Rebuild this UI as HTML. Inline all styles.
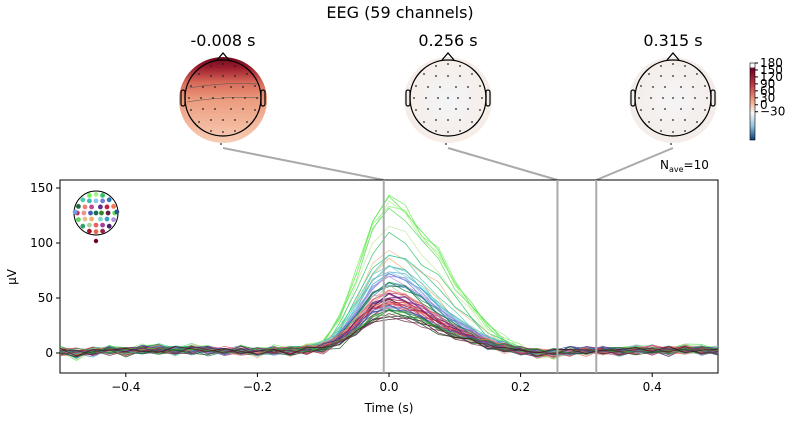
<!DOCTYPE html>
<html><head><meta charset="utf-8"><style>
body{margin:0;background:#fff;font-family:"Liberation Sans","DejaVu Sans",sans-serif}
svg text{font-family:"DejaVu Sans","Liberation Sans",sans-serif}
</style></head><body>
<svg id="fig" width="800" height="420" viewBox="0 0 800 420">
<defs>
<linearGradient id="g1" x1="0" y1="0" x2="0" y2="1">
<stop offset="0" stop-color="#6a0a1c"/><stop offset="0.12" stop-color="#9a1c2c"/><stop offset="0.3" stop-color="#d96a5a"/><stop offset="0.5" stop-color="#ec9c7e"/><stop offset="1" stop-color="#f7cdb5"/></linearGradient>
<radialGradient id="g2" cx="0.5" cy="0.5" r="0.6"><stop offset="0" stop-color="#f3f5f8"/><stop offset="1" stop-color="#f7ebe4"/></radialGradient>
<radialGradient id="g3" cx="0.5" cy="0.5" r="0.6"><stop offset="0" stop-color="#f5f5f6"/><stop offset="1" stop-color="#f4ebe6"/></radialGradient>
<linearGradient id="cb" x1="0" y1="0" x2="0" y2="1">
<stop offset="0" stop-color="#ffffff"/><stop offset="0.05" stop-color="#ffffff"/><stop offset="0.07" stop-color="#6a0020"/><stop offset="0.3" stop-color="#c4424a"/><stop offset="0.5" stop-color="#f2a889"/><stop offset="0.65" stop-color="#f7f7f7"/><stop offset="0.82" stop-color="#92c4de"/><stop offset="1" stop-color="#0a3a78"/></linearGradient>
</defs>
<text x="400" y="18" text-anchor="middle" font-size="16">EEG (59 channels)</text>
<g id="topos"></g>
<g>
<rect x="750" y="63" width="5" height="77" fill="url(#cb)" stroke="#000" stroke-width="0.6"/>
<g font-size="12" id="cbticks"></g>
</g>
<text x="660" y="169" font-size="12">N<tspan font-size="8" dy="3">ave</tspan><tspan dy="-3">=10</tspan></text>
<g id="connectors"></g>
<g id="plot"></g>
</svg>
<script>
const times=[-0.5,-0.475,-0.45,-0.425,-0.4,-0.375,-0.35,-0.325,-0.3,-0.275,-0.25,-0.225,-0.2,-0.175,-0.15,-0.125,-0.1,-0.075,-0.05,-0.025,0,0.025,0.05,0.075,0.1,0.125,0.15,0.175,0.2,0.225,0.25,0.275,0.3,0.325,0.35,0.375,0.4,0.425,0.45,0.475,0.5];
const shape=[0,-0.03,0,0.02,0,0.03,0.03,0.01,0.03,0.02,0,0.01,-0.01,0.02,0.01,0.03,0.06,0.22,0.5,0.82,0.97,0.9,0.74,0.55,0.38,0.26,0.14,0.07,0.02,-0.02,-0.03,0.0,0.01,0.02,0.0,0.02,0.02,0.01,0.03,0.02,0.01];
const noise=[1,-2,2,-1,3,0,-2,1,2,-3,1,0,2,-1,-2,3,1,-1,2,-2,0,1,-3,2,1,-1,2,0,-2,1,3,-1,0,2,-2,1,0,-1,2,1,-2,0,1,2,-1,3,-2,0,1,-1];
const peaks=[148,145,140,138,132,120,110,95,92,88,85,82,80,78,76,75,74,72,70,68,66,65,64,62,61,60,58,57,56,55,54,53,52,51,50,50,49,48,47,47,46,45,45,44,43,43,42,42,41,40,40,39,38,37,36,35,34,33,32];
const colors=["#6cf25a","#54e84a","#88f070","#a8f08a","#5ed860","#c6e8a0","#2fc864","#e8c090","#2ebf7e","#48d0a8","#f0b070","#66cccc","#40b8b8","#7ad8c8","#5ab0d0","#88c8e8","#3aa0c0","#9090e8","#7878d8","#b090e0","#4a8ad0","#2c7ab8","#30a070","#208850","#1c6a40","#a0d0a0","#e89090","#f08070","#e86060","#d85080","#c04898","#a040a0","#803090","#603080","#502070","#402060","#c02040","#a01830","#802030","#f07850","#e86848","#d04060","#b83060","#9a2050","#e05070","#f09090","#70a0e0","#5080d0","#4060b8","#305090","#208060","#107050","#60c040","#40a030","#308828","#205020","#883060","#602040","#401020"];
const X=t=>389+t*658, Y=v=>353-v*1.1;
const plot=document.getElementById('plot');
const NS='http://www.w3.org/2000/svg';
function mk(tag,attrs,parent){const e=document.createElementNS(NS,tag);for(const k in attrs)e.setAttribute(k,attrs[k]);(parent||plot).appendChild(e);return e;}
const frame=mk('rect',{x:60,y:180,width:658,height:193,fill:'#fff',stroke:'#000','stroke-width':1});


const tg=mk('g',{fill:'none','stroke-width':0.8});


peaks.forEach((p,c)=>{
 let d='';
 times.forEach((t,i)=>{
  const decay=(t>0.05&&p>90)?1.15:1;
  const v=shape[i]*p*decay+noise[(i+c)%noise.length]*1.2+(c%5)*0.6;
  d+=(i?'L':'M')+X(t).toFixed(1)+','+Y(v).toFixed(1);
 });
 const pth=mk('path',{d:d,stroke:colors[c%colors.length],'stroke-opacity':0.85},tg);
 
 
});
const xt=[-0.4,-0.2,0,0.2,0.4], yt=[0,50,100,150];
xt.forEach(t=>{mk('line',{x1:X(t),x2:X(t),y1:373,y2:377,stroke:'#000'});
 const tx=mk('text',{x:X(t),y:391,'text-anchor':'middle','font-size':12});tx.textContent=t===0?'0.0':(t<0?'\u2212'+Math.abs(t):String(t));
 
 });
yt.forEach(v=>{mk('line',{x1:56,x2:60,y1:Y(v),y2:Y(v),stroke:'#000'});
 const tx=mk('text',{x:53,y:Y(v)+4,'text-anchor':'end','font-size':12});tx.textContent=v;
 
 });
const xl=mk('text',{x:389,y:412,'text-anchor':'middle','font-size':12});xl.textContent='Time (s)';


const yl=mk('text',{x:16,y:277,'text-anchor':'middle','font-size':12,transform:'rotate(-90 16 277)'});yl.textContent='µV';


const topoTimes=[-0.008,0.256,0.315];
const topoCx=[223,448,673], fills=['url(#g1)','url(#g2)','url(#g3)'];
const topos=document.getElementById('topos'), con=document.getElementById('connectors');
const sens=[[-12,-32],[0,-34],[12,-32],[-24,-24],[-12,-22],[0,-22],[12,-22],[24,-24],[-32,-12],[-20,-11],[-8,-11],[8,-11],[20,-11],[32,-12],[-34,0],[-22,0],[-10,0],[0,0],[10,0],[22,0],[34,0],[-32,12],[-20,11],[-8,11],[8,11],[20,11],[32,12],[-24,24],[-12,22],[0,22],[12,22],[24,24],[-12,33],[0,34],[12,33],[-38,-2],[38,-2]];
topoTimes.forEach((t,k)=>{
 const cx=topoCx[k],cy=98;
 const g=mk('g',{},topos);
 
 
 mk('ellipse',{cx:cx,cy:cy+2,rx:44,ry:43,fill:fills[k]},g);
 if(k===0){mk('path',{d:`M${cx-34},${cy-10} Q${cx},${cy-16} ${cx+34},${cy-14}`,fill:'none',stroke:'#555','stroke-width':0.6},g);
  mk('path',{d:`M${cx-36},${cy+4} Q${cx},${cy-2} ${cx+36},${cy}`,fill:'none',stroke:'#555','stroke-width':0.6},g);}
 mk('circle',{cx:cx,cy:cy,r:38,fill:'none',stroke:'#000','stroke-width':1.3},g);
 mk('path',{d:`M${cx-6},${cy-38} L${cx},${cy-45} L${cx+6},${cy-38}`,fill:'none',stroke:'#000','stroke-width':1.3},g);
 mk('rect',{x:cx-42,y:cy-8,width:4,height:16,rx:2,fill:'none',stroke:'#000','stroke-width':1.2},g);
 mk('rect',{x:cx+38,y:cy-8,width:4,height:16,rx:2,fill:'none',stroke:'#000','stroke-width':1.2},g);
 sens.forEach(s=>mk('circle',{cx:cx+s[0],cy:cy+s[1],r:0.9,fill:'#222'},g));
 mk('circle',{cx:cx-2,cy:cy+46,r:0.9,fill:'#222'},g);
 const tt=mk('text',{x:cx,y:46,'text-anchor':'middle','font-size':16},g);tt.textContent=t.toFixed(3)+' s';
 mk('line',{x1:cx,y1:148,x2:X(t),y2:180,stroke:'#aaa','stroke-width':2},con);
 const vl=mk('line',{x1:X(t),y1:180,x2:X(t),y2:373,stroke:'#aaa','stroke-width':2});
 
 
});
const ig=mk('g',{});


mk('circle',{cx:96,cy:213,r:22,fill:'none',stroke:'#000','stroke-width':1},ig);
sens.forEach((s,i)=>mk('circle',{cx:96+s[0]*0.55,cy:213+s[1]*0.55,r:2.4,fill:colors[(i*3)%colors.length]},ig));
mk('circle',{cx:96,cy:241,r:2.2,fill:'#700020'},ig);
const cbv=[180,150,120,90,60,30,0,-30];
const cbt=document.getElementById('cbticks');
cbv.forEach((v,i)=>{const y=63+(180-v)*0.232;mk('line',{x1:755,x2:758,y1:y,y2:y,stroke:'#000'},cbt);
 const tx=mk('text',{x:760,y:y+4,'font-size':12},cbt);tx.textContent=v<0?'\u2212'+(-v):v;});
</script>
</body></html>
